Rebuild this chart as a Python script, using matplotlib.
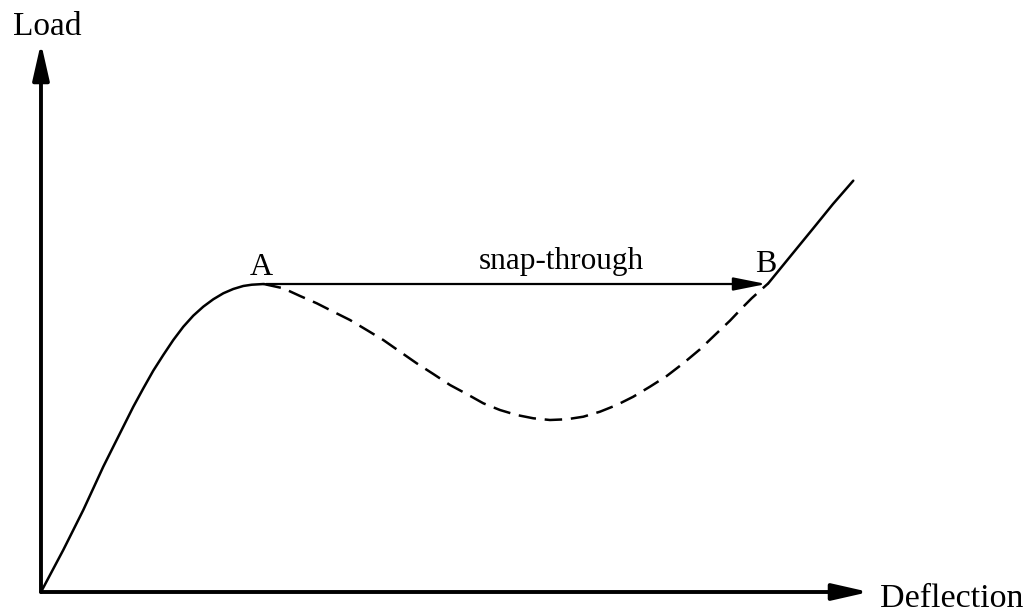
import matplotlib
matplotlib.use("Agg")
import matplotlib.pyplot as plt
from matplotlib.patches import FancyArrowPatch

##### Data (deflection, load) #####
# stable branch from the origin up to limit point A
rise_x = [0.0, 0.269, 0.390, 0.511, 0.632, 0.752, 0.873, 0.994, 1.115, 1.236, 1.356,
          1.477, 1.598, 1.719, 1.839, 1.960, 2.081, 2.202, 2.322, 2.443, 2.545, 2.690]
rise_y = [0.0, 0.765, 1.129, 1.494, 1.889, 2.282, 2.647, 3.011, 3.375, 3.710, 4.031,
          4.317, 4.590, 4.832, 5.033, 5.197, 5.332, 5.441, 5.519, 5.574, 5.597, 5.610]

# unstable branch A -> B (dashed)
unstable_x = [2.690, 2.926, 3.128, 3.330, 3.530, 3.732, 3.934, 4.134, 4.336, 4.537,
              4.738, 4.940, 5.141, 5.342, 5.543, 5.745, 5.946, 6.147, 6.349, 6.550,
              6.751, 6.953, 7.153, 7.355, 7.557, 7.757, 7.959, 8.160, 8.321, 8.482,
              8.583, 8.784]
unstable_y = [5.610, 5.532, 5.392, 5.259, 5.106, 4.954, 4.772, 4.590, 4.377, 4.166,
              3.971, 3.770, 3.607, 3.437, 3.315, 3.224, 3.164, 3.133, 3.146, 3.193,
              3.284, 3.406, 3.557, 3.740, 3.934, 4.166, 4.421, 4.712, 4.942, 5.197,
              5.350, 5.623]

# stable branch after B
stiff_x = [8.784, 9.053, 9.327, 9.565, 9.810]
stiff_y = [5.623, 6.120, 6.625, 7.067, 7.492]

point_a = (2.72, 5.61)
point_b = (8.76, 5.61)
axis_len = 10.0

labels = {"x": "Deflection", "y": "Load", "a": "A", "b": "B", "jump": "snap-through"}

##### Figure #####
plt.rcParams["font.family"] = ["Liberation Serif", "DejaVu Serif"]

fig = plt.figure(figsize=(10.26, 6.13), dpi=100)
ax = fig.add_axes([0, 0, 1, 1])
ax.set_xlim(-0.495, 11.896)
ax.set_ylim(-0.3825, 10.783)
ax.axis("off")

# axes as arrows
for tip in [(axis_len, 0), (0, axis_len)]:
    ax.add_patch(FancyArrowPatch((0, 0), tip, arrowstyle="-|>,head_length=1.1,head_width=0.25",
                                 mutation_scale=20, lw=2.8, color="black", shrinkA=0, shrinkB=0))

# load-deflection curve
ax.plot(rise_x, rise_y, color="black", lw=1.8, solid_capstyle="round", solid_joinstyle="round")
ax.plot(unstable_x, unstable_y, color="black", lw=1.8, linestyle=(0, (7, 3.5)))
ax.plot(stiff_x, stiff_y, color="black", lw=1.8, solid_capstyle="round", solid_joinstyle="round")

# snap-through jump
ax.add_patch(FancyArrowPatch(point_a, point_b, arrowstyle="-|>,head_length=1.0,head_width=0.2",
                             mutation_scale=20, lw=1.6, color="black", shrinkA=0, shrinkB=0))

# text
ax.text(-0.338, 10.146, labels["y"], fontsize=24, ha="left", va="baseline")
ax.text(10.133, -0.273, labels["x"], fontsize=24.5, ha="left", va="baseline")
ax.text(2.524, 5.774, labels["a"], fontsize=23, ha="left", va="baseline")
ax.text(8.623, 5.829, labels["b"], fontsize=23, ha="left", va="baseline")
ax.text(6.280, 5.883, labels["jump"], fontsize=22.5, ha="center", va="baseline")

fig.savefig("out.png", dpi=100)
